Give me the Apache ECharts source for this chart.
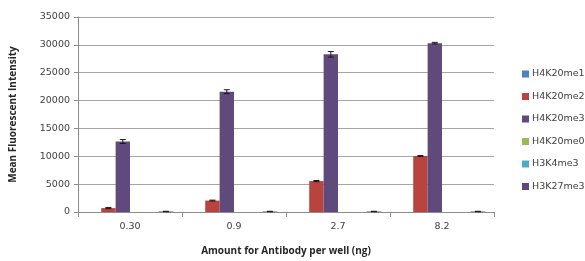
<!DOCTYPE html>
<html>
<head>
<meta charset="utf-8">
<script src="https://cdn.jsdelivr.net/npm/echarts@6/dist/echarts.min.js"></script>
<style>
html, body { margin: 0; padding: 0; background: #fff; }
#main { width: 585px; height: 261px; }
</style>
</head>
<body>
<div id="main"></div>
<script>
var categories = ['0.30', '0.9', '2.7', '8.2'];
var seriesNames = ['H4K20me1', 'H4K20me2', 'H4K20me3', 'H4K20me0', 'H3K4me3', 'H3K27me3'];
var seriesColors = ['#4f81bd', '#b9433f', '#604a7b', '#9bbb59', '#4bacc6', '#5f497a'];

var h4k20me1 = [0, 0, 0, 0];
var h4k20me2 = [700, 2050, 5550, 10050];
var h4k20me3 = [12650, 21600, 28300, 30300];
var h4k20me0 = [0, 0, 0, 0];
var h3k4me3 = [0, 0, 0, 0];
var h3k27me3 = [90, 90, 90, 90];

var err2 = [100, 80, 100, 80];
var err3 = [350, 350, 500, 150];
var err6 = [40, 40, 40, 40];

var values = [h4k20me1, h4k20me2, h4k20me3, h4k20me0, h3k4me3, h3k27me3];
var errors = [null, err2, err3, null, null, err6];

var yTicks = { min: 0, max: 35000, interval: 5000 };
var catGap = 0.17;

var myChart = echarts.init(document.getElementById('main'));

var series = [];
seriesNames.forEach(function (name, i) {
    series.push({
        name: name,
        type: 'bar',
        barGap: '0%',
        barCategoryGap: (catGap * 100) + '%',
        itemStyle: { color: seriesColors[i] },
        data: values[i]
    });
});

// error bars, lined up with bar i in each category
errors.forEach(function (err, i) {
    if (!err) return;
    var data = categories.map(function (c, k) {
        return [k, values[i][k], err[k]];
    });
    series.push({
        type: 'custom',
        silent: true,
        z: 5,
        data: data,
        renderItem: function (params, api) {
            var k = api.value(0);
            var v = api.value(1);
            var e = api.value(2);
            var catW = api.size([1, 0])[0];
            var bw = catW * (1 - catGap) / seriesNames.length;
            var base = api.coord([k, v]);
            var x = base[0] - catW * (1 - catGap) / 2 + bw * (i + 0.5);
            var yTop = api.coord([k, v + e])[1];
            var yBot = api.coord([k, Math.max(0, v - e)])[1];
            var cap = 3;
            var st = { stroke: '#1a1a1a', lineWidth: 1 };
            return {
                type: 'group',
                children: [
                    { type: 'line', shape: { x1: x, y1: yTop, x2: x, y2: yBot }, style: st },
                    { type: 'line', shape: { x1: x - cap, y1: yTop, x2: x + cap, y2: yTop }, style: st },
                    { type: 'line', shape: { x1: x - cap, y1: yBot, x2: x + cap, y2: yBot }, style: st }
                ]
            };
        }
    });
});

var option = {
    animation: false,
    backgroundColor: '#fff',
    grid: { left: 76, right: 91, top: 17, bottom: 44 },
    legend: {
        orient: 'vertical',
        left: 517,
        top: 64,
        itemWidth: 7,
        itemHeight: 7,
        itemGap: 12.5,
        icon: 'rect',
        data: seriesNames,
        textStyle: { fontFamily: 'DejaVu Sans', fontSize: 9.5, color: '#404040', lineHeight: 10, padding: [0, 0, 0, -2] }
    },
    xAxis: {
        type: 'category',
        data: categories,
        name: 'Amount for Antibody per well (ng)',
        nameLocation: 'middle',
        nameGap: 34,
        nameTextStyle: { fontFamily: 'Open Sans', fontWeight: 'bold', fontSize: 10, color: '#262626' },
        axisLine: { lineStyle: { color: '#8c8c8c' } },
        axisTick: { show: true, length: 5, lineStyle: { color: '#8c8c8c' } },
        axisLabel: { fontFamily: 'DejaVu Sans', fontSize: 9.5, color: '#404040', margin: 10 }
    },
    yAxis: {
        type: 'value',
        min: yTicks.min,
        max: yTicks.max,
        interval: yTicks.interval,
        name: 'Mean Fluorescent Intensity',
        nameLocation: 'middle',
        nameGap: 60,
        nameTextStyle: { fontFamily: 'Open Sans', fontWeight: 'bold', fontSize: 10, color: '#262626' },
        axisLine: { show: true, lineStyle: { color: '#8c8c8c' } },
        axisTick: { show: true, length: 4, lineStyle: { color: '#8c8c8c' } },
        splitLine: { lineStyle: { color: '#a6a6a6' } },
        axisLabel: {
            fontFamily: 'DejaVu Sans', fontSize: 9.5, color: '#404040', margin: 8,
            formatter: function (v) { return String(v); }
        }
    },
    series: series
};
myChart.setOption(option);
</script>
</body>
</html>
